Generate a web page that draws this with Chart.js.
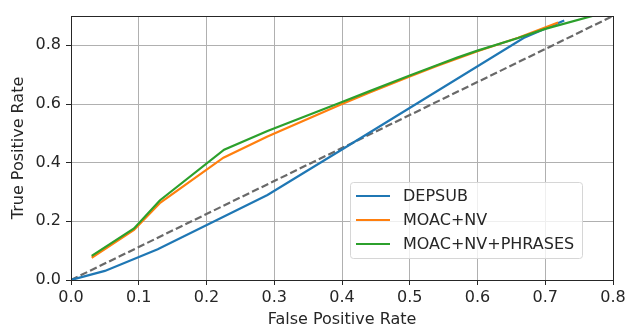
<!DOCTYPE html>
<html>
<head>
<meta charset="utf-8">
<script src="https://cdn.jsdelivr.net/npm/chart.js@4/dist/chart.umd.min.js"></script>
<style>
  html, body { margin: 0; padding: 0; background: #fff; }
  #wrap { width: 626px; height: 330px; position: relative; }
</style>
</head>
<body>
<div id="wrap"><canvas id="c" width="626" height="330"></canvas></div>
<script>
// ---- data ----
const seriesLabels = ['DEPSUB', 'MOAC+NV', 'MOAC+NV+PHRASES'];
const seriesColors = ['#1f77b4', '#ff7f0e', '#2ca02c'];

const depsubFPR = [0.0, 0.05, 0.128, 0.29, 0.40, 0.668, 0.728];
const depsubTPR = [0.0, 0.031, 0.105, 0.29, 0.445, 0.825, 0.885];

const moacFPR = [0.0305, 0.093, 0.131, 0.225, 0.29, 0.40, 0.44, 0.50, 0.54, 0.60, 0.66, 0.719];
const moacTPR = [0.076, 0.171, 0.262, 0.417, 0.489, 0.600, 0.638, 0.694, 0.730, 0.780, 0.826, 0.878];

const phrasesFPR = [0.0305, 0.093, 0.131, 0.226, 0.29, 0.40, 0.44, 0.50, 0.54, 0.57, 0.60, 0.66, 0.70, 0.771];
const phrasesTPR = [0.082, 0.176, 0.271, 0.444, 0.508, 0.607, 0.643, 0.697, 0.732, 0.758, 0.782, 0.825, 0.856, 0.901];

const chanceFPR = [0.0, 0.8];
const chanceTPR = [0.0, 0.9];

const xTicks = [0.0, 0.1, 0.2, 0.3, 0.4, 0.5, 0.6, 0.7, 0.8];
const yTicks = [0.0, 0.2, 0.4, 0.6, 0.8];
const xTitle = 'False Positive Rate';
const yTitle = 'True Positive Rate';

const pts = (xs, ys) => xs.map((x, i) => ({ x: x, y: ys[i] }));

const FONT = 'DejaVu Sans';
const TEXT = '#262626';

const frame = {
  id: 'frame',
  afterDraw(chart) {
    const a = chart.chartArea, ctx = chart.ctx;
    const L = Math.round(a.left), T = Math.round(a.top), R = Math.round(a.right), B = Math.round(a.bottom);
    ctx.save();
    ctx.strokeStyle = TEXT;
    ctx.lineWidth = 1;
    ctx.strokeRect(L + 0.5, T + 0.5, R - L, B - T);
    ctx.restore();
  }
};

const legendBox = {
  id: 'legendBox',
  afterDatasetsDraw(chart) {
    const ctx = chart.ctx;
    const x0 = 350.5, y0 = 182.5, w = 232, h = 76;
    ctx.save();
    ctx.globalAlpha = 0.8;
    ctx.fillStyle = '#ffffff';
    ctx.beginPath();
    ctx.roundRect(x0, y0, w, h, 3);
    ctx.fill();
    ctx.globalAlpha = 1;
    ctx.strokeStyle = '#d6d6d6';
    ctx.lineWidth = 1;
    ctx.stroke();
    ctx.font = '16px "' + FONT + '"';
    ctx.textBaseline = 'middle';
    const items = chart.data.datasets.filter(d => d.label);
    items.forEach((d, i) => {
      const yy = 196 + i * 24;
      ctx.strokeStyle = d.borderColor;
      ctx.lineWidth = 2.2;
      ctx.beginPath();
      ctx.moveTo(356, yy);
      ctx.lineTo(390, yy);
      ctx.stroke();
      ctx.fillStyle = TEXT;
      ctx.fillText(d.label, 403, yy + 1);
    });
    ctx.restore();
  }
};

new Chart(document.getElementById('c'), {
  type: 'scatter',
  data: {
    datasets: [
      { label: seriesLabels[0], data: pts(depsubFPR, depsubTPR), borderColor: seriesColors[0], order: 3 },
      { label: seriesLabels[1], data: pts(moacFPR, moacTPR), borderColor: seriesColors[1], order: 2 },
      { label: seriesLabels[2], data: pts(phrasesFPR, phrasesTPR), borderColor: seriesColors[2], order: 1 },
      { label: '', data: pts(chanceFPR, chanceTPR), borderColor: '#696969', borderDash: [7.4, 3.2], order: 4 }
    ].map(d => Object.assign({ showLine: true, pointRadius: 0, pointHoverRadius: 0, borderWidth: 2.2, tension: 0, fill: false, backgroundColor: d.borderColor }, d))
  },
  options: {
    responsive: false,
    animation: false,
    devicePixelRatio: 1,
    layout: { padding: { top: 16, right: 13, left: 0, bottom: 0 } },
    plugins: { legend: { display: false }, tooltip: { enabled: false } },
    scales: {
      x: {
        type: 'linear', min: 0, max: 0.8,
        afterFit(s) { s.height = 50; s.paddingRight = 0; s.paddingLeft = 0; },
        afterBuildTicks(s) { s.ticks = xTicks.map(v => ({ value: v })); },
        ticks: { font: { family: FONT, size: 16 }, color: TEXT, padding: 3, maxRotation: 0,
                 callback: v => Number(v).toFixed(1) },
        grid: { color: '#b0b0b0', lineWidth: 1, tickColor: TEXT, tickLength: 5, drawTicks: true },
        border: { color: TEXT, width: 1 },
        title: { display: true, text: xTitle, font: { family: FONT, size: 16 }, color: TEXT, padding: { top: 0, bottom: 1 } }
      },
      y: {
        type: 'linear', min: 0, max: 0.9,
        afterFit(s) { s.width = 71; s.paddingTop = 0; s.paddingBottom = 0; },
        afterBuildTicks(s) { s.ticks = yTicks.map(v => ({ value: v })); },
        ticks: { font: { family: FONT, size: 16 }, color: TEXT, padding: 5,
                 callback: v => Number(v).toFixed(1) },
        grid: { color: '#b0b0b0', lineWidth: 1, tickColor: TEXT, tickLength: 5, drawTicks: true },
        border: { color: TEXT, width: 1 },
        title: { display: true, text: yTitle, font: { family: FONT, size: 16 }, color: TEXT, padding: { top: 9, bottom: 0 } }
      }
    }
  },
  plugins: [legendBox, frame]
});
</script>
</body>
</html>
